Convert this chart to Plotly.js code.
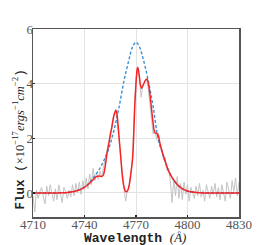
<!DOCTYPE html>
<html><head><meta charset="utf-8">
<script src="https://cdn.plot.ly/plotly-3.0.1.min.js"></script>
<style>html,body{margin:0;padding:0;background:#fff;}#c{width:266px;height:245px;}</style>
</head><body><div id="c"></div>
<script>
// Observed spectrum (grey)
var obsWave = [4710,4711,4712,4713,4714,4715,4716,4717,4718,4719,4720,4721,4722,4723,4724,4725,4726,4727,4728,4729,4730,4731,4732,4733,4734,4735,4736,4737,4738,4739,4740,4741,4742,4743,4744,4745,4746,4747,4748,4749,4750,4751,4752,4753,4754,4755,4756,4757,4758,4759,4760,4761,4762,4763,4764,4765,4766,4767,4768,4769,4770,4771,4772,4773,4774,4775,4776,4777,4778,4779,4780,4781,4782,4783,4784,4785,4786,4787,4788,4789,4790,4791,4792,4793,4794,4795,4796,4797,4798,4799,4800,4801,4802,4803,4804,4805,4806,4807,4808,4809,4810,4811,4812,4813,4814,4815,4816,4817,4818,4819,4820,4821,4822,4823,4824,4825,4826,4827,4828,4829,4830];
var obsFlux = [-0.1,-0.7,0.1,-0.2,0.05,0.2,-0.15,-0.4,0.25,-0.1,0.3,0.0,-0.3,0.15,-0.25,0.3,-0.05,-0.35,0.2,0.05,-0.2,0.1,-0.15,0.3,-0.1,0.35,0.0,0.4,-0.05,0.45,0.1,0.55,0.15,0.7,0.3,0.9,0.45,0.75,0.5,0.8,0.6,0.95,1.3,1.55,1.8,2.2,2.35,2.9,3.0,2.7,2.0,1.35,0.6,0.15,-0.3,0.1,0.2,0.8,1.3,3.0,4.2,4.45,4.2,3.5,3.95,4.05,4.2,3.9,3.3,2.75,2.15,2.3,1.95,2.2,1.7,1.6,1.2,1.3,0.85,0.9,0.45,-0.35,0.5,-0.1,0.6,-0.2,0.35,-0.25,0.4,-0.05,0.3,-0.3,0.2,0.0,-0.2,0.25,-0.1,0.35,-0.15,0.1,-0.3,0.3,0.05,-0.2,0.25,-0.05,0.35,-0.15,0.2,-0.25,0.3,0.0,-0.3,0.4,0.1,-0.2,0.45,0.05,0.55,-0.1,0.4];

// Intrinsic broad profile (blue dashed)
var intrWave = [4710,4714,4718,4722,4726,4730,4733,4736,4739,4742,4745,4748,4751,4754,4757,4760,4763,4766,4768,4770,4772,4774,4777,4780,4783,4786,4789,4792,4795,4798,4801,4805,4810,4815,4820,4825,4830];
var intrFlux = [0,0,0,0,0.005,0.015,0.04,0.09,0.18,0.32,0.55,0.8,1.15,1.6,2.25,3.1,4.1,4.9,5.35,5.52,5.35,4.95,4.15,3.15,1.95,1.35,0.8,0.47,0.25,0.12,0.05,0.02,0,0,0,0,0];

// Fitted absorbed model (red)
var fitWave = [4710,4714,4718,4722,4726,4730,4733,4736,4739,4742,4744,4745.5,4747,4748.5,4750,4751,4752,4753,4754,4755,4756,4757,4758.3,4759,4760,4761,4762,4763,4764,4765,4766,4767,4768,4768.6,4769.3,4770,4770.6,4771.1,4771.8,4772.6,4773.3,4774.2,4775.5,4776.5,4777.5,4778.5,4779.5,4780.5,4781,4782,4783,4784,4786,4789,4792,4795,4798,4801,4805,4810,4815,4820,4825,4830];
var fitFlux = [0,0,0,0,0.005,0.015,0.04,0.09,0.17,0.3,0.42,0.52,0.6,0.62,0.6,0.65,0.95,1.4,1.75,2.1,2.45,2.8,3.04,2.85,2.15,1.4,0.65,0.22,0.05,0.07,0.28,0.7,1.25,2.0,3.2,4.0,4.5,4.6,4.35,3.95,3.83,3.95,4.12,4.16,3.9,3.4,2.8,2.3,2.2,2.18,2.1,1.8,1.35,0.8,0.47,0.25,0.12,0.05,0.02,0,0,0,0,0];

var xTicks = [4710,4740,4770,4800,4830];
var yTicks = [0,2,4,6];
var xTitle = '<b>Wavelength</b> <span style="font-family:Liberation Serif"><i>(Å)</i></span>';
var yTitle = '<b>Flux</b> (<span style="font-family:Liberation Serif">×10<sup>−17</sup><i>ergs</i><sup>−1</sup><i>cm</i><sup>−2</sup></span>)';

var traces = [
  {x: obsWave, y: obsFlux, type:'scatter', mode:'lines', line:{color:'#c4c4c4', width:1}, hoverinfo:'skip'},
  {x: intrWave, y: intrFlux, type:'scatter', mode:'lines', line:{color:'#3d8fd1', width:1.4, dash:'3px,2px', shape:'spline'}, hoverinfo:'skip'},
  {x: fitWave, y: fitFlux, type:'scatter', mode:'lines', line:{color:'#f52525', width:1.5, shape:'spline', smoothing:0.6}, hoverinfo:'skip'}
];

var serif = 'Liberation Serif';
var layout = {
  width:266, height:245,
  margin:{l:33, r:27, t:29, b:28},
  paper_bgcolor:'#fff', plot_bgcolor:'#fff',
  showlegend:false,
  font:{family:serif, size:13, color:'#555'},
  xaxis:{
    range:[4710,4830], tickvals:xTicks, ticktext:xTicks.map(String),
    showgrid:true, gridcolor:'#e3e3e3', gridwidth:1, zeroline:false,
    showline:true, mirror:true, linecolor:'#555', linewidth:1.5,
    ticks:'inside', ticklen:2, tickwidth:1.5, tickcolor:'#222',
    ticklabelstandoff:-5,
    tickfont:{family:serif, size:13, color:'#555'}
  },
  yaxis:{
    range:[-0.88,6], tickvals:yTicks, ticktext:yTicks.map(String),
    showgrid:true, gridcolor:'#e3e3e3', gridwidth:1, zeroline:false,
    showline:true, mirror:true, linecolor:'#555', linewidth:1.5,
    ticks:'inside', ticklen:2, tickwidth:1.5, tickcolor:'#222',
    ticklabelstandoff:-4,
    tickfont:{family:serif, size:13, color:'#555'}
  },
  annotations:[
    {xref:'paper', yref:'paper', x:0.495, y:-0.113, xanchor:'center', yanchor:'middle', showarrow:false, borderpad:0,
     text:xTitle, font:{family:'Liberation Mono', size:13, color:'#222'}},
    {xref:'paper', yref:'paper', x:-0.066, y:0.415, xanchor:'center', yanchor:'middle', showarrow:false, textangle:-90, borderpad:0,
     text:yTitle, font:{family:'Liberation Mono', size:12.5, color:'#222'}}
  ]
};
Plotly.newPlot('c', traces, layout, {staticPlot:true, displayModeBar:false});
</script></body></html>
